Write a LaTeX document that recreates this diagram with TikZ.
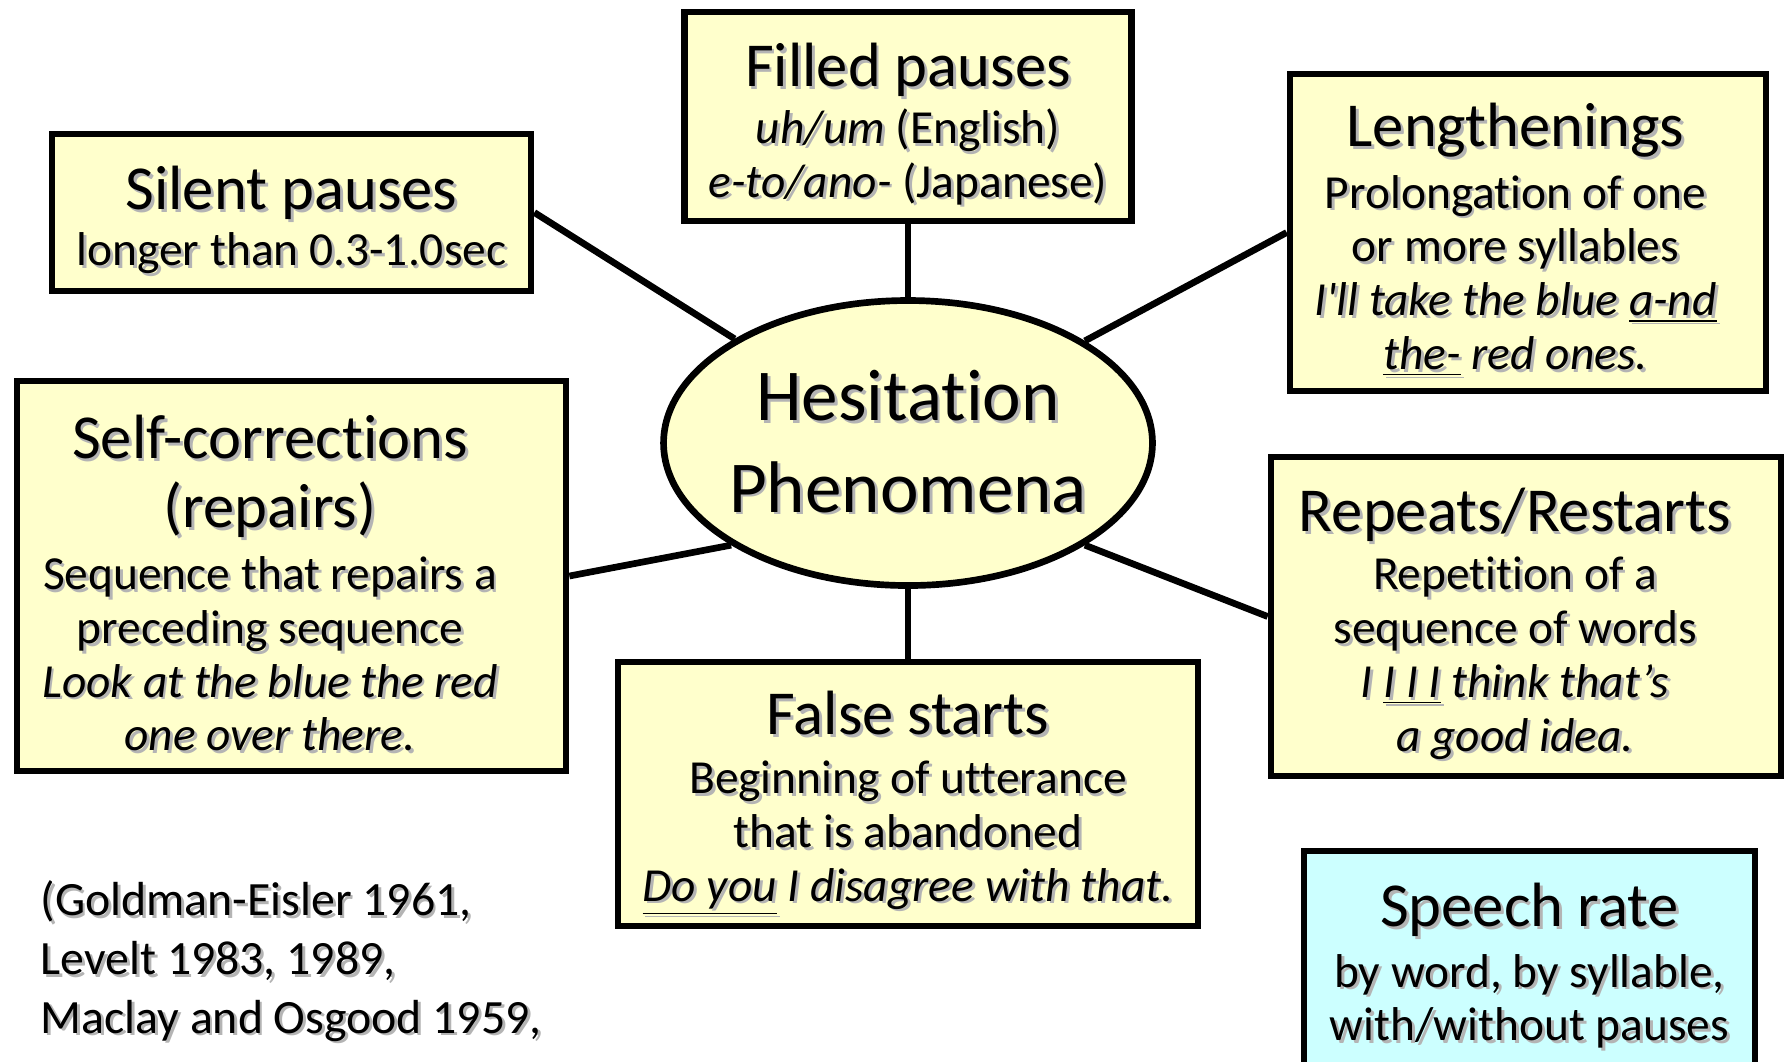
\documentclass[tikz,border=0pt]{standalone}
\usepackage{fontspec}
\setmainfont{Carlito}[Ligatures={TeX,NoCommon}]
\usepackage{tikz}
\usetikzlibrary{shapes.geometric}

\definecolor{boxyellow}{HTML}{FFFFCC}
\definecolor{boxcyan}{HTML}{CCFFFF}
\definecolor{textshadow}{HTML}{B4B4B4}

\newcommand{\subfont}{\fontsize{13.5}{15.3}\selectfont}
\newcommand{\hubfont}{\fontsize{20.8}{25.9}\selectfont}
\newcommand{\citefont}{\fontsize{13.6}{16.7}\selectfont}
\newcommand{\titlestrut}{\rule{0pt}{17.3pt}}
\newcommand{\lineoff}{0pt}
\newcommand{\sh}[1]{\leavevmode\rlap{\hspace{0.8pt}\raisebox{-0.8pt}{\color{textshadow}#1}}#1\kern\lineoff\relax}
\newcommand{\ttl}[2][\titlestrut]{{\fontsize{17.8}{21}\selectfont#1\sh{#2}}}

\begin{document}
\begin{tikzpicture}[
        box/.style={
            rectangle, draw=black, line width=1.9pt, fill=boxyellow,
            align=center, inner sep=0pt, font={\subfont\gdef\lineoff{0pt}}
        },
        hub/.style={ellipse, draw=black, line width=1.9pt, fill=boxyellow, align=center, inner sep=0pt, font=\hubfont},
        textoff/.style={font={\subfont\gdef\lineoff{#1}}},
        link/.style={draw=black, line width=1.9pt}
    ]
        \useasboundingbox (0,0) rectangle (17.85,-10.61);

        % Centre
        \node[hub, inner xsep=-0.06cm, minimum width=4.83cm, minimum height=2.85cm] (hes) at (9.08,-4.43) {\sh{Hesitation}\\\sh{Phenomena}};

        % Surrounding boxes
        \node[box, minimum width=4.47cm, minimum height=2.09cm] (filled) at (9.08,-1.165)
            {\ttl{Filled pauses}\\[0.9pt] \sh{\textit{uh/um} (English)}\\ \sh{\textit{e-to/ano-} (Japanese)}};
        \node[box, minimum width=4.79cm, minimum height=1.57cm] (silent) at (2.915,-2.125)
            {\ttl{Silent pauses}\\[0.6pt] \sh{longer than 0.3-1.0sec}};
        \node[box, textoff=0.25cm, minimum width=4.76cm, minimum height=3.17cm] (lengthen) at (15.28,-2.325)
            {\ttl{Lengthenings}\\[2.3pt] \sh{Prolongation of one}\\ \sh{or more syllables}\\ \sh{\textit{I\textquotesingle ll take the blue \underline{a-nd}}}\\ \sh{\textit{\underline{the-} red ones.}}};
        \node[box, textoff=0.43cm, minimum width=5.49cm, minimum height=3.90cm] (selfc) at (2.915,-5.76)
            {\ttl{Self-corrections}\\[4.3pt] \ttl[]{(repairs)}\\[2.3pt] \sh{Sequence that repairs a}\\ \sh{preceding sequence}\\ \sh{\textit{Look at the blue the red}}\\ \sh{\textit{one over there.}}};
        \node[box, textoff=0.22cm, minimum width=5.10cm, minimum height=3.19cm] (repts) at (15.26,-6.165)
            {\ttl{Repeats/Restarts}\\[1.2pt] \sh{Repetition of a}\\ \sh{sequence of words}\\ \sh{\textit{I \underline{I I I} think that's}}\\ \sh{\textit{a good idea.}}};
        \node[box, minimum width=5.80cm, minimum height=2.64cm] (fstart) at (9.08,-7.94)
            {\ttl[\rule{0pt}{18.5pt}]{False starts}\\[1.5pt] \sh{Beginning of utterance}\\ \sh{that is abandoned}\\ \sh{\textit{\underline{Do you} I disagree with that.}}};
        \node[box, fill=boxcyan, minimum width=4.51cm, minimum height=2.32cm] (speech) at (15.295,-9.67)
            {\ttl[]{Speech rate}\\[2pt] \sh{by word, by syllable,}\\ \sh{with/without pauses}};

        % References
        \node[anchor=north west, align=left, inner sep=0pt, font={\citefont\gdef\lineoff{0pt}}] (refs) at (0.40,-8.80)
            {\sh{(Goldman-Eisler 1961,}\\ \sh{Levelt 1983, 1989,}\\ \sh{Maclay and Osgood 1959,}};

        % Connectors
        \draw[link] (silent.east) -- (hes.149);
        \draw[link] (filled.south) -- (hes.north);
        \draw[link] (lengthen.west) -- (hes.30);
        \draw[link] (selfc.east) -- (hes.210);
        \draw[link] (repts.west) -- (hes.330);
        \draw[link] (fstart.north) -- (hes.south);

    \end{tikzpicture}
\end{document}
